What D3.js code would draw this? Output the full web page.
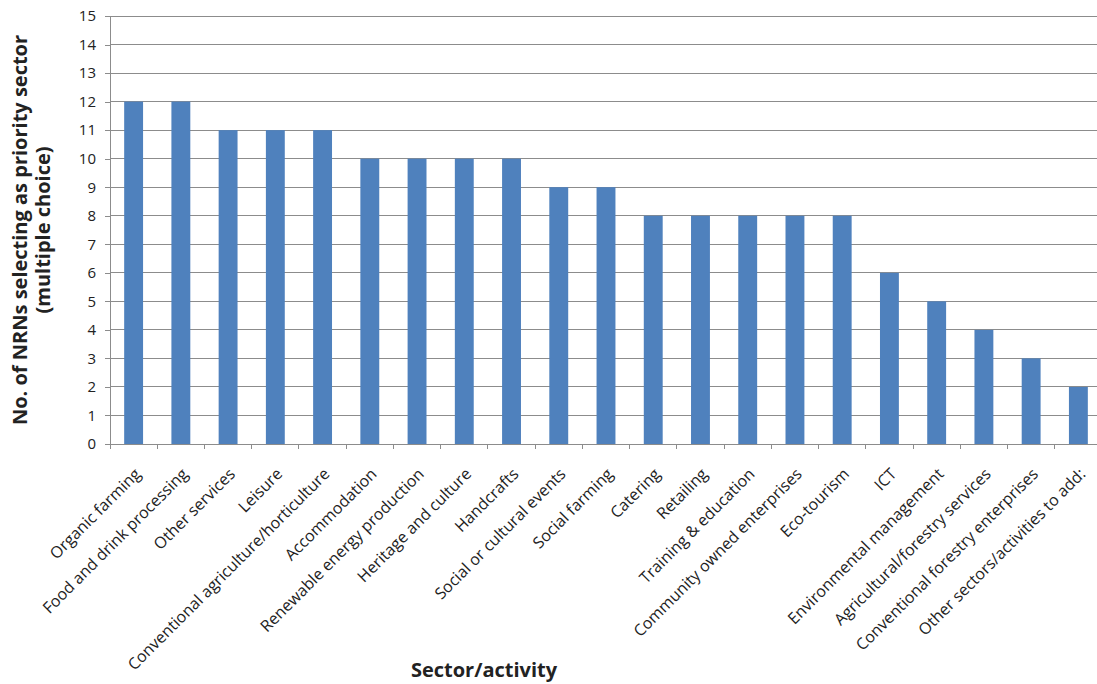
<!DOCTYPE html>
<html>
<head>
<meta charset="utf-8">
<script src="https://cdn.jsdelivr.net/npm/d3@7"></script>
<style>
  html, body { margin: 0; padding: 0; background: #fff; }
  svg { display: block; }
  text { font-family: "Open Sans", "Noto Sans", sans-serif; fill: #222; }
</style>
</head>
<body>
<svg id="chart" width="1097" height="684"></svg>
<script>
// Sectors chosen as priorities by National Rural Networks
const sectors = [
  "Organic farming",
  "Food and drink processing",
  "Other services",
  "Leisure",
  "Conventional agriculture/horticulture",
  "Accommodation",
  "Renewable energy production",
  "Heritage and culture",
  "Handcrafts",
  "Social or cultural events",
  "Social farming",
  "Catering",
  "Retailing",
  "Training & education",
  "Community owned enterprises",
  "Eco-tourism",
  "ICT",
  "Environmental management",
  "Agricultural/forestry services",
  "Conventional forestry enterprises",
  "Other sectors/activities to add:"
];
const counts = [12, 12, 11, 11, 11, 10, 10, 10, 10, 9, 9, 8, 8, 8, 8, 8, 6, 5, 4, 3, 2];
const yTicks = d3.range(0, 16);

const svg = d3.select("#chart");
const plotLeft = 110, plotRight = 1102, plotTop = 16, plotBottom = 444;

const x = d3.scaleBand().domain(sectors).range([plotLeft, plotRight]).paddingInner(0.6).paddingOuter(0.3);
const y = d3.scaleLinear().domain([0, 15]).range([plotBottom, plotTop]);

// horizontal gridlines
svg.append("g")
  .selectAll("line")
  .data(yTicks.filter(d => d > 0))
  .join("line")
  .attr("x1", plotLeft).attr("x2", plotRight)
  .attr("y1", d => y(d)).attr("y2", d => y(d))
  .attr("stroke", "#8c8c8c").attr("stroke-width", 1).attr("shape-rendering", "crispEdges");

// bars
svg.append("g")
  .selectAll("rect")
  .data(sectors)
  .join("rect")
  .attr("x", d => x(d))
  .attr("y", (d, i) => y(counts[i]))
  .attr("width", x.bandwidth())
  .attr("height", (d, i) => y(0) - y(counts[i]))
  .attr("fill", "#4f81bd");

// y axis
const yAxis = svg.append("g")
  .attr("transform", `translate(${plotLeft},0)`)
  .call(d3.axisLeft(y).tickValues(yTicks).tickSize(5).tickPadding(9).tickFormat(d3.format("d")));
yAxis.select(".domain").attr("stroke", "#8c8c8c").attr("shape-rendering", "crispEdges");
yAxis.selectAll(".tick line").attr("stroke", "#8c8c8c").attr("shape-rendering", "crispEdges");
yAxis.selectAll(".tick text").attr("font-size", 15).attr("fill", "#222")
  .attr("font-family", "'Open Sans', sans-serif");

// x axis line with ticks at category boundaries
const step = x.step();
const boundaries = d3.range(0, sectors.length + 1).map(i => plotLeft + i * step);
svg.append("line")
  .attr("x1", plotLeft).attr("x2", plotRight)
  .attr("y1", plotBottom).attr("y2", plotBottom)
  .attr("stroke", "#8c8c8c").attr("shape-rendering", "crispEdges");
svg.append("g")
  .selectAll("line")
  .data(boundaries)
  .join("line")
  .attr("x1", d => d).attr("x2", d => d)
  .attr("y1", plotBottom).attr("y2", plotBottom + 5)
  .attr("stroke", "#8c8c8c").attr("shape-rendering", "crispEdges");

// rotated category labels
svg.append("g")
  .selectAll("text")
  .data(sectors)
  .join("text")
  .attr("transform", d => `translate(${x(d) + x.bandwidth() / 2 + 8},${plotBottom + 31}) rotate(-45)`)
  .attr("text-anchor", "end")
  .attr("font-size", 16)
  .text(d => d);

// axis titles
const yTitle = svg.append("text")
  .attr("transform", `translate(27,${(plotTop + plotBottom) / 2}) rotate(-90)`)
  .attr("text-anchor", "middle")
  .attr("font-size", 20)
  .attr("font-weight", "bold");
yTitle.append("tspan").attr("x", 0).attr("dy", 0).text("No. of NRNs selecting as priority sector");
yTitle.append("tspan").attr("x", 0).attr("dy", 23).text("(multiple choice)");

svg.append("text")
  .attr("x", 484).attr("y", 677)
  .attr("text-anchor", "middle")
  .attr("font-size", 20)
  .attr("font-weight", "bold")
  .text("Sector/activity");
</script>
</body>
</html>
